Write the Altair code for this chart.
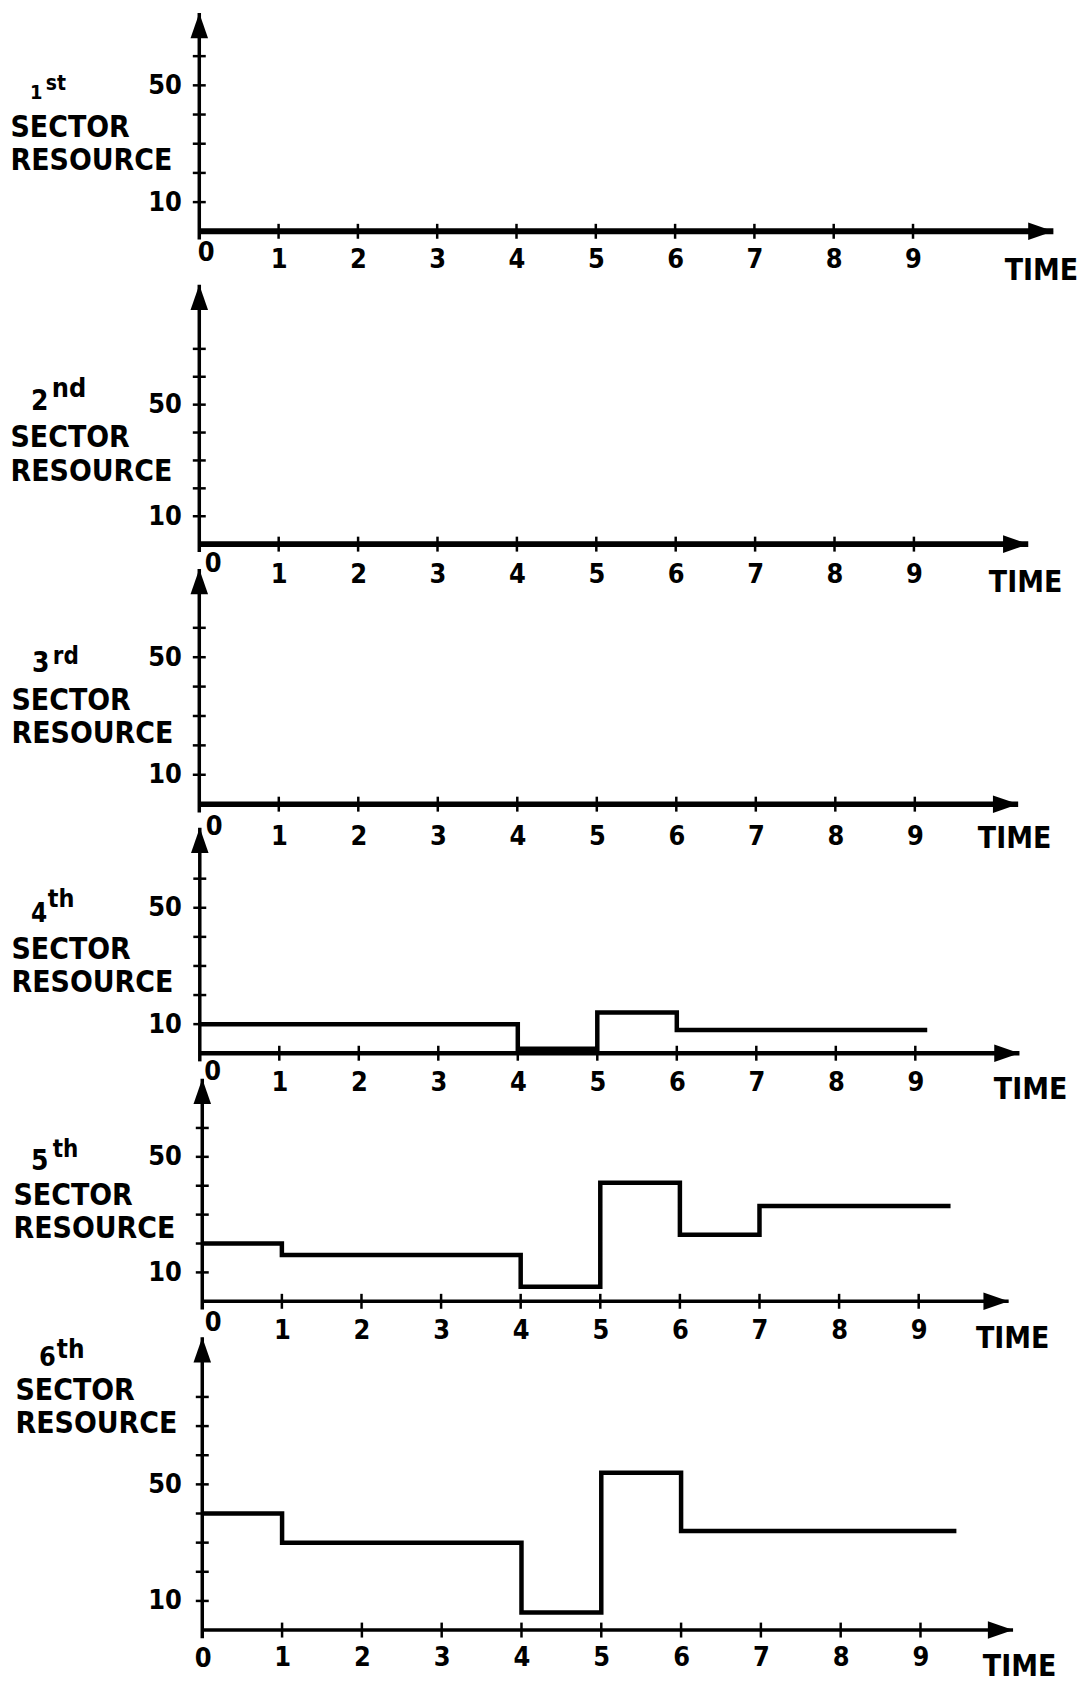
import altair as alt
import pandas as pd

# ---------------- data ----------------
TIMES = [0, 1, 2, 3, 4, 5, 6, 7, 8, 9]
X_TICKS = [1, 2, 3, 4, 5, 6, 7, 8, 9]
Y_LABELS = [10, 50]
ORD_NUM = ["1", "2", "3", "4", "5", "6"]
ORD_SUF = ["st", "nd", "rd", "th", "th", "th"]
Y_TICK_TOP = [60, 70, 60, 60, 60, 80]

# resource level of each sector during each time unit (sectors 1-3: none drawn)
SECTOR4 = [10, 10, 10, 10, 1.5, 14, 8, 8, 8, 8]
SECTOR5 = [20, 16, 16, 16, 5, 41, 23, 33, 33, 33]
SECTOR6 = [40, 30, 30, 30, 6, 54, 34, 34, 34, 34]
SERIES = {3: SECTOR4, 4: SECTOR5, 5: SECTOR6}
SERIES_END = {3: 9.15, 4: 9.4, 5: 9.45}

# ---------------- layout / style ----------------
FONT = "DejaVu Sans Condensed, DejaVu Sans"
W = 855

PANELS = [
    dict(h=219, ppu=2.93, ytip=None, xppu=79.6, xoff=0.0, xtip=10.77, xw=6.0, lp=15, tx=808, ty=48,
         sx=-190, sy=124, lh=33, zdx=7, zdy=9, nx=-170, ny=86, ns=20, ux=-154, uy=77, us=21),
    dict(h=314, ppu=2.80, ytip=93.0, xppu=79.7, xoff=0.0, xtip=10.44, xw=6.0, lp=18, tx=792, ty=48,
         sx=-190, sy=216, lh=34, zdx=14, zdy=7, nx=-169, ny=179, ns=28, ux=-148, uy=166, us=27),
    dict(h=261, ppu=2.95, ytip=80.0, xppu=79.8, xoff=0.0, xtip=10.30, xw=5.5, lp=19, tx=781, ty=44,
         sx=-189, sy=166, lh=33, zdx=15, zdy=10, nx=-168, ny=128, ns=28, ux=-147, uy=120, us=24),
    dict(h=250, ppu=2.92, ytip=77.5, xppu=79.8, xoff=0.5, xtip=10.31, xw=4.5, lp=16, tx=797, ty=45,
         sx=-189, sy=155, lh=33, zdx=13, zdy=6, nx=-169, ny=118, ns=26, ux=-152, uy=103, us=25),
    dict(h=249, ppu=2.90, ytip=77.0, xppu=79.9, xoff=3.0, xtip=10.13, xw=3.5, lp=16, tx=779, ty=46,
         sx=-187, sy=152, lh=33, zdx=11, zdy=9, nx=-169, ny=117, ns=28, ux=-147, uy=104, us=24),
    dict(h=330, ppu=2.925, ytip=100.5, xppu=80.1, xoff=3.0, xtip=10.16, xw=3.5, lp=15, tx=786, ty=46,
         sx=-185, sy=99, lh=33, zdx=1, zdy=16, nx=-161, ny=65, ns=27, ux=-143, uy=57, us=26),
]

UP = "M0,0L0.8,2.3L-0.8,2.3Z"
RIGHT = "M0,0L-2.3,-0.8L-2.3,0.8Z"


def panel(i):
    p = PANELS[i]
    ymax = p["h"] / p["ppu"]
    ytip = p["ytip"] if p["ytip"] is not None else ymax
    x0 = -p["xoff"] / p["xppu"]
    xs = alt.Scale(domain=[x0, x0 + W / p["xppu"]], nice=False, zero=False)
    ys = alt.Scale(domain=[0, ymax], nice=False, zero=False)
    xaxis = alt.Axis(
        values=X_TICKS, format="d", domain=False, ticks=False, tickSize=0, grid=False,
        labelPadding=p["lp"], labelFontSize=27, labelFont=FONT, labelFontWeight="bold",
        labelColor="black", labelOverlap=False, labelFlush=False,
        title="TIME", titleX=p["tx"], titleY=p["ty"], titleAlign="left",
        titleBaseline="alphabetic", titleFont=FONT, titleFontSize=30,
        titleFontWeight="bold", titleColor="black",
    )
    yaxis = alt.Axis(
        values=Y_LABELS, format="d", domain=False, ticks=False, tickSize=0, grid=False,
        labelPadding=18, labelFontSize=27, labelFont=FONT, labelFontWeight="bold",
        labelColor="black", labelOverlap=False, labelFlush=False,
        labelAlign="right", labelBaseline="middle",
        title=["SECTOR", "RESOURCE"], titleAngle=0, titleX=p["sx"], titleY=p["sy"],
        titleAlign="left", titleBaseline="alphabetic", titleLineHeight=p["lh"],
        titleFont=FONT, titleFontSize=30, titleFontWeight="bold", titleColor="black",
    )

    def X(f):
        return alt.X(f, type="quantitative", scale=xs, axis=xaxis)

    def Y(f):
        return alt.Y(f, type="quantitative", scale=ys, axis=yaxis)

    layers = []
    # y axis line
    layers.append(
        alt.Chart(pd.DataFrame({"x": [0], "y": [-2.8], "y2": [ytip]}))
        .mark_rule(color="black", strokeWidth=3.5)
        .encode(x=X("x"), y=Y("y"), y2="y2")
    )
    # x axis line
    layers.append(
        alt.Chart(pd.DataFrame({"x": [0], "x2": [p["xtip"]], "y": [0]}))
        .mark_rule(color="black", strokeWidth=p["xw"])
        .encode(x=X("x"), x2="x2", y=Y("y"))
    )
    # crossing ticks
    layers.append(
        alt.Chart(pd.DataFrame({"x": 0, "y": list(range(10, Y_TICK_TOP[i] + 1, 10))}))
        .mark_tick(orient="horizontal", size=13, thickness=2.5, color="black", opacity=1)
        .encode(x=X("x"), y=Y("y"))
    )
    layers.append(
        alt.Chart(pd.DataFrame({"x": X_TICKS, "y": 0}))
        .mark_tick(orient="vertical", size=15, thickness=2.5, color="black", opacity=1)
        .encode(x=X("x"), y=Y("y"))
    )
    # arrow heads
    layers.append(
        alt.Chart(pd.DataFrame({"x": [0], "y": [ytip]}))
        .mark_point(shape=UP, size=484, filled=True, color="black", opacity=1, strokeWidth=0)
        .encode(x=X("x"), y=Y("y"))
    )
    layers.append(
        alt.Chart(pd.DataFrame({"x": [p["xtip"]], "y": [0]}))
        .mark_point(shape=RIGHT, size=484, filled=True, color="black", opacity=1, strokeWidth=0)
        .encode(x=X("x"), y=Y("y"))
    )
    # resource step line
    if i in SERIES:
        vals = SERIES[i]
        df = pd.DataFrame({"t": TIMES + [SERIES_END[i]], "v": vals + [vals[-1]]})
        layers.append(
            alt.Chart(df)
            .mark_line(interpolate="step-after", color="black", strokeWidth=4.5, strokeJoin="miter")
            .encode(x=X("t"), y=Y("v"))
        )
    # origin label
    layers.append(
        alt.Chart(pd.DataFrame({"x": [0], "y": [0], "t": ["0"]}))
        .mark_text(align="center", baseline="top", dx=p["zdx"], dy=p["zdy"],
                   font=FONT, fontSize=27, fontWeight="bold", color="black")
        .encode(x=X("x"), y=Y("y"), text="t:N")
    )
    # ordinal label (number + raised suffix)
    layers.append(
        alt.Chart(pd.DataFrame({"t": [ORD_NUM[i]]}))
        .mark_text(align="left", baseline="alphabetic", font=FONT, fontSize=p["ns"],
                   fontWeight="bold", color="black")
        .encode(x=alt.value(p["nx"]), y=alt.value(p["ny"]), text="t:N")
    )
    layers.append(
        alt.Chart(pd.DataFrame({"t": [ORD_SUF[i]]}))
        .mark_text(align="left", baseline="alphabetic", font=FONT, fontSize=p["us"],
                   fontWeight="bold", color="black")
        .encode(x=alt.value(p["ux"]), y=alt.value(p["uy"]), text="t:N")
    )
    return alt.layer(*layers).properties(width=W, height=p["h"])


chart = (
    alt.vconcat(*[panel(i) for i in range(6)], spacing=0, bounds="flush")
    .properties(padding={"left": 2, "top": 0, "right": 0, "bottom": 0})
    .configure_view(strokeWidth=0)
)

chart.save("out.html", embed_options={"renderer": "svg", "actions": False})
